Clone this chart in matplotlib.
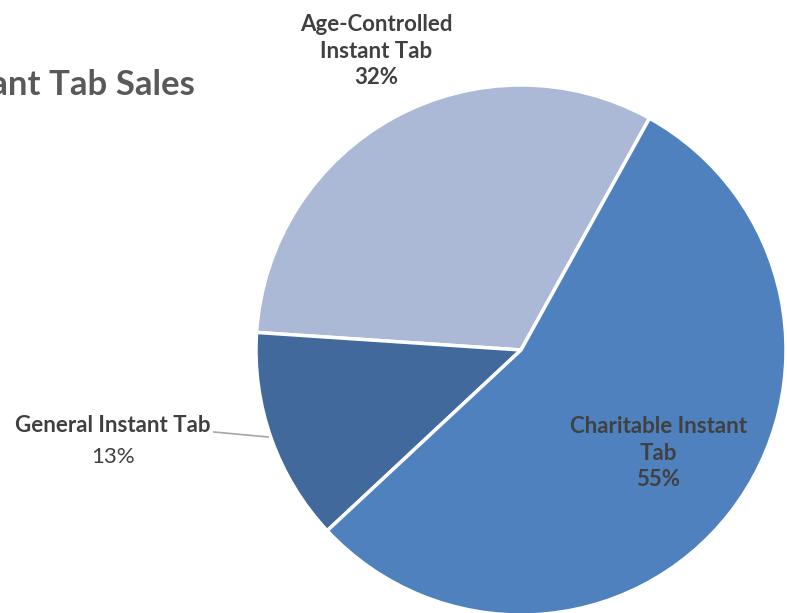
import matplotlib
matplotlib.use("Agg")
import matplotlib.pyplot as plt

plt.rcParams['font.family'] = ['Lato', 'DejaVu Sans']

# -- data
categories = ['Age-Controlled\nInstant Tab', 'General Instant Tab', 'Charitable Instant\nTab']
shares = [32, 13, 55]
colors = ['#abb9d7', '#41699b', '#4e81bd']

W, H = 787, 613

fig = plt.figure(figsize=(W / 100, H / 100), dpi=100)
ax = fig.add_axes([0, 0, 1, 1])

# pie in pixel coordinates (y measured from the bottom)
wedges, _ = ax.pie(shares, colors=colors, startangle=61, counterclock=True,
                   center=(521, H - 350), radius=265, frame=True,
                   wedgeprops=dict(edgecolor='white', linewidth=2.5))
ax.set_xlim(0, W)
ax.set_ylim(0, H)
ax.set_aspect('equal')
ax.axis('off')

txt = '#404040'

# title, its start runs off the left edge
ax.text(195, H - 85, 'Instant Tab Sales', ha='right', va='center',
        fontsize=25, fontweight='bold', color='#595959')

# slice labels
ax.text(376, H - 51, f'{categories[0]}\n{shares[0]}%', ha='center', va='center',
        fontsize=16, fontweight='bold', color=txt, linespacing=1.3)
ax.text(658, H - 453, f'{categories[2]}\n{shares[2]}%', ha='center', va='center',
        fontsize=16, fontweight='bold', color=txt, linespacing=1.3)
ax.text(113, H - 425, categories[1], ha='center', va='center',
        fontsize=16, fontweight='bold', color=txt)
ax.text(113, H - 457, f'{shares[1]}%', ha='center', va='center',
        fontsize=16, color=txt)
ax.plot([214, 268], [H - 432, H - 437], color='#a6a6a6', lw=1.2)

fig.savefig('out.png', dpi=100)
